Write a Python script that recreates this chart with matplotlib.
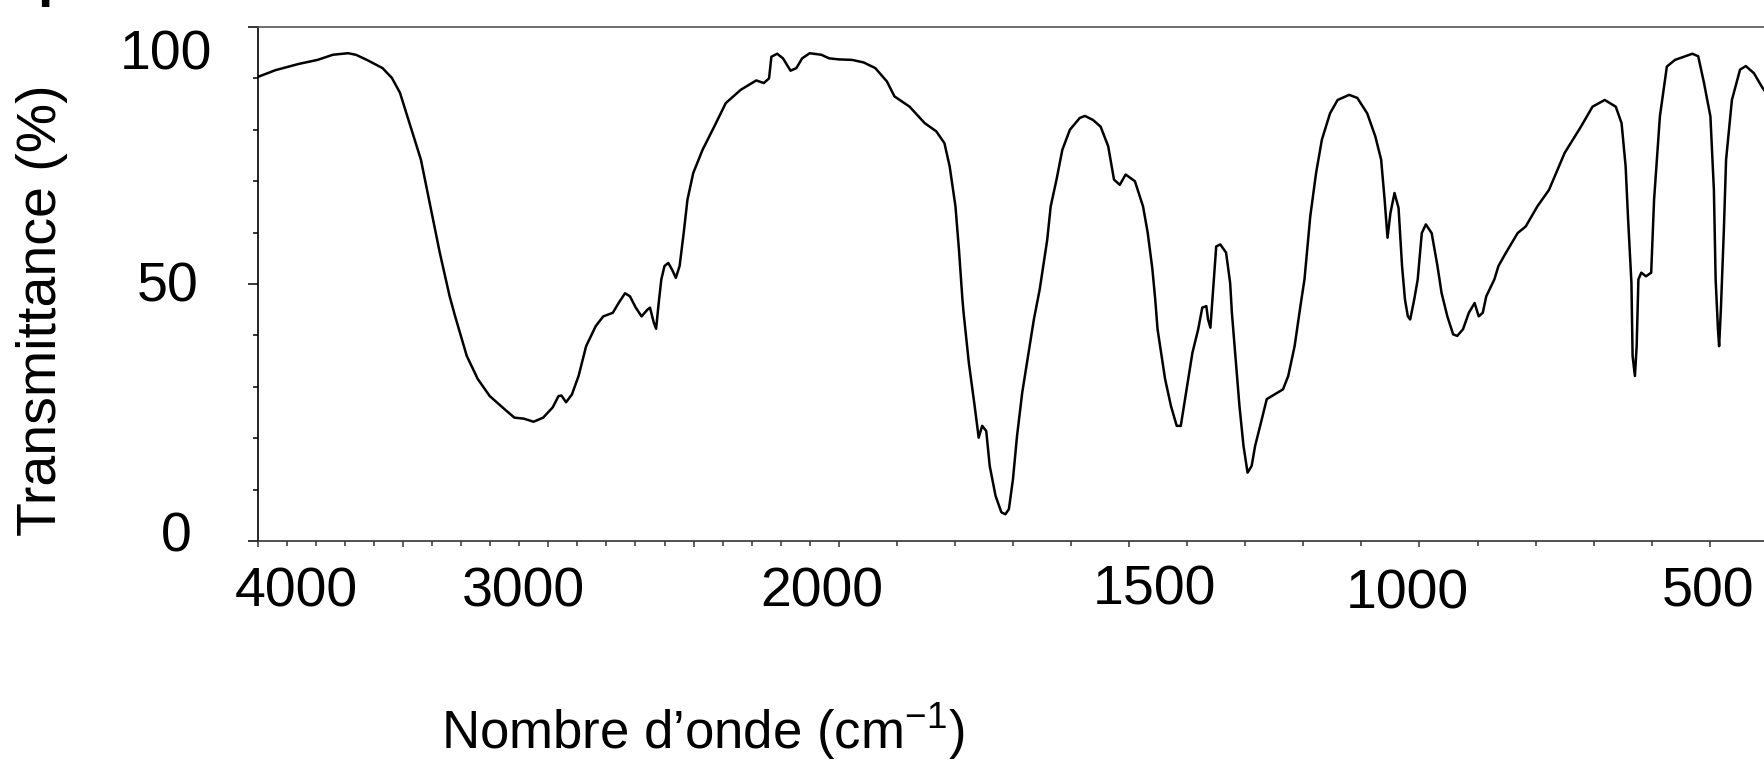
import numpy as np
import matplotlib
matplotlib.use('Agg')
import matplotlib.pyplot as plt
from matplotlib.ticker import FixedLocator
from matplotlib.transforms import ScaledTranslation

plt.rcParams['font.family'] = ['Liberation Sans', 'DejaVu Sans']
plt.rcParams['mathtext.fontset'] = 'custom'
plt.rcParams['mathtext.rm'] = 'Liberation Sans'

# spectrum (cm-1, %T)
wavenumber = [4000, 3940, 3861, 3795, 3742, 3690, 3663, 3625, 3571, 3539,
              3511, 3479, 3439, 3406, 3374, 3340, 3321, 3281, 3243, 3202,
              3150, 3117, 3084, 3051, 3018, 2985, 2965, 2955, 2939, 2919,
              2896, 2870, 2837, 2811, 2778, 2758, 2736, 2719, 2699, 2679,
              2659, 2650, 2637, 2629, 2620, 2611, 2600, 2587, 2574, 2561,
              2548, 2534, 2521, 2501, 2469, 2429, 2389, 2337, 2284, 2258,
              2240, 2232, 2212, 2192, 2166, 2146, 2126, 2100, 2060, 2033,
              2000, 1977, 1957, 1937, 1917, 1904, 1878, 1852, 1832, 1818,
              1809, 1799, 1793, 1787, 1785, 1776, 1766, 1759, 1753, 1746,
              1740, 1730, 1720, 1713, 1707, 1700, 1693, 1684, 1674, 1664,
              1654, 1641, 1635, 1625, 1615, 1602, 1585, 1576, 1562, 1549,
              1536, 1526, 1516, 1506, 1490, 1476, 1468, 1460, 1455, 1451,
              1438, 1428, 1418, 1411, 1401, 1391, 1381, 1374, 1367, 1364,
              1360, 1357, 1354, 1350, 1343, 1333, 1326, 1323, 1316, 1310,
              1303, 1296, 1289, 1283, 1273, 1263, 1235, 1226, 1215, 1205,
              1198, 1188, 1178, 1168, 1154, 1141, 1121, 1107, 1090, 1076,
              1066, 1060, 1055, 1050, 1043, 1036, 1030, 1025, 1020, 1016,
              1009, 1003, 996, 989, 979, 969, 962, 952, 942, 935,
              925, 915, 905, 898, 891, 885, 871, 864, 851, 831,
              817, 797, 777, 750, 722, 702, 681, 662, 652, 645,
              641, 635, 633, 629, 626, 623, 618, 610, 601, 596,
              586, 574, 560, 530, 520, 510, 499, 493, 490, 486,
              484, 481, 479, 476, 472, 462, 448, 438, 424, 410,
              405]
transmittance = [90.3, 91.6, 92.8, 93.6, 94.6, 94.9, 94.6, 93.6, 92.0, 90.1,
                 87.2, 81.4, 74.2, 65.0, 56.1, 47.6, 43.7, 36.0, 31.5, 28.2,
                 25.6, 24.0, 23.8, 23.2, 24.0, 26.0, 28.2, 28.3, 27.0, 28.5,
                 32.1, 37.9, 41.8, 43.7, 44.4, 46.3, 48.2, 47.6, 45.4, 43.7,
                 45.0, 45.4, 42.5, 41.3, 46.3, 50.9, 53.5, 54.1, 52.8, 51.2,
                 53.5, 59.9, 66.4, 71.6, 76.1, 80.6, 85.2, 87.8, 89.6, 89.1,
                 90.0, 94.2, 94.8, 93.9, 91.5, 92.0, 93.9, 94.9, 94.6, 93.9,
                 93.7, 93.6, 93.1, 92.0, 89.4, 86.5, 84.5, 81.3, 79.7, 77.4,
                 72.9, 65.1, 56.7, 47.0, 44.4, 34.7, 26.3, 20.1, 22.4, 21.4,
                 14.6, 8.8, 5.6, 5.2, 6.2, 12.0, 20.4, 28.9, 36.0, 43.1,
                 48.9, 58.6, 65.1, 70.3, 76.1, 80.0, 82.3, 82.7, 81.9, 80.6,
                 76.8, 70.3, 69.3, 71.3, 70.0, 65.1, 60.0, 53.0, 47.0, 41.2,
                 31.5, 26.3, 22.4, 22.4, 29.5, 36.6, 41.2, 45.4, 45.7, 43.1,
                 41.5, 46.3, 50.9, 57.3, 57.7, 56.1, 50.2, 44.4, 34.7, 26.3,
                 18.5, 13.3, 14.6, 18.5, 23.0, 27.6, 29.5, 32.1, 37.9, 45.7,
                 50.9, 63.2, 71.6, 78.1, 83.2, 85.8, 86.8, 86.2, 83.2, 78.7,
                 74.2, 66.4, 59.0, 63.8, 67.7, 64.8, 53.5, 47.0, 43.7, 43.1,
                 47.0, 50.9, 59.9, 61.6, 59.9, 53.5, 48.3, 43.7, 40.2, 39.9,
                 41.2, 44.4, 46.3, 43.7, 44.4, 47.6, 50.9, 53.5, 56.1, 59.9,
                 61.2, 65.1, 68.3, 75.5, 80.6, 84.5, 85.8, 84.5, 81.3, 72.9,
                 63.2, 50.2, 36.0, 32.1, 37.9, 50.9, 52.2, 51.5, 52.2, 66.4,
                 82.6, 92.3, 93.6, 94.8, 94.3, 89.1, 82.6, 68.3, 50.9, 41.2,
                 37.9, 45.0, 50.9, 60.0, 74.2, 85.8, 91.7, 92.4, 91.0, 88.3,
                 87.5]

x_major = [4000, 3500, 3000, 2500, 2000, 1500, 1000, 500]
x_labels = ['4000', '', '3000', '', '2000', '1500', '1000', '500']
x_minor = list(range(3900, 400, -100))
y_major = [0, 50, 100]
y_labels = ['0', '50', '100']
y_minor = [10, 20, 30, 40, 60, 70, 80, 90]

# the labels in the picture sit a little off their ticks (pixels)
x_shift = [(38, 0), (0, 0), (-25, 0), (0, 0), (-17, 0), (25, 2), (-12, -2), (-2, 0)]
y_shift = [(-6, 10), (0, 2), (14, -23)]


# IR convention: scale doubles below 2000 cm-1
def forward(w):
    w = np.asarray(w, dtype=float)
    return np.where(w >= 2000, w, 2 * w - 2000)


def inverse(v):
    v = np.asarray(v, dtype=float)
    return np.where(v >= 2000, v, (v + 2000) / 2)


fig = plt.figure(figsize=(17.65, 7.63), dpi=100)
ax = fig.add_axes([258 / 1765, 1 - 541 / 763, 1 - 258 / 1765, (541 - 27) / 763])

ax.plot(wavenumber, transmittance, color='black', lw=1.8)

ax.set_xscale('function', functions=(forward, inverse))
ax.set_xlim(4000, 405)
ax.set_ylim(0, 100)

ax.xaxis.set_major_locator(FixedLocator(x_major))
ax.xaxis.set_minor_locator(FixedLocator(x_minor))
ax.set_xticklabels(x_labels)
ax.yaxis.set_major_locator(FixedLocator(y_major))
ax.yaxis.set_minor_locator(FixedLocator(y_minor))
ax.set_yticklabels(y_labels)

ax.tick_params(axis='x', which='major', direction='out', length=4.5, width=1.1,
               labelsize=40, pad=14, color='#333333')
ax.tick_params(axis='x', which='minor', direction='out', length=3.6, width=1.1,
               color='#333333')
ax.tick_params(axis='y', which='major', direction='out', length=7.2, width=1.1,
               labelsize=40, pad=36)
ax.tick_params(axis='y', which='minor', direction='out', length=3.6, width=1.1)

ax.spines['right'].set_visible(False)
ax.spines['top'].set_color('#555555')
ax.spines['top'].set_linewidth(1.2)
ax.spines['bottom'].set_color('#333333')
ax.spines['bottom'].set_linewidth(1.2)
ax.spines['left'].set_linewidth(1.2)

for lab, (dx, dy) in zip(ax.get_xticklabels(), x_shift):
    lab.set_transform(lab.get_transform() + ScaledTranslation(dx / 100, dy / 100, fig.dpi_scale_trans))
for lab, (dx, dy) in zip(ax.get_yticklabels(), y_shift):
    lab.set_transform(lab.get_transform() + ScaledTranslation(dx / 100, dy / 100, fig.dpi_scale_trans))

fig.text(703 / 1765, 1 - 749 / 763, 'Nombre d\u2019onde (cm$^{\\mathregular{-1}}$)',
         ha='center', va='baseline', fontsize=38)
fig.text(42 / 1765, 1 - 310 / 763, 'Transmittance (%)', rotation=90,
         ha='center', va='center', fontsize=40)
# clipped panel letter at the top left corner
fig.text(37 / 1765, 1.006, 'p', fontsize=40, fontweight='bold', va='baseline')

fig.savefig('out.png', dpi=100)
